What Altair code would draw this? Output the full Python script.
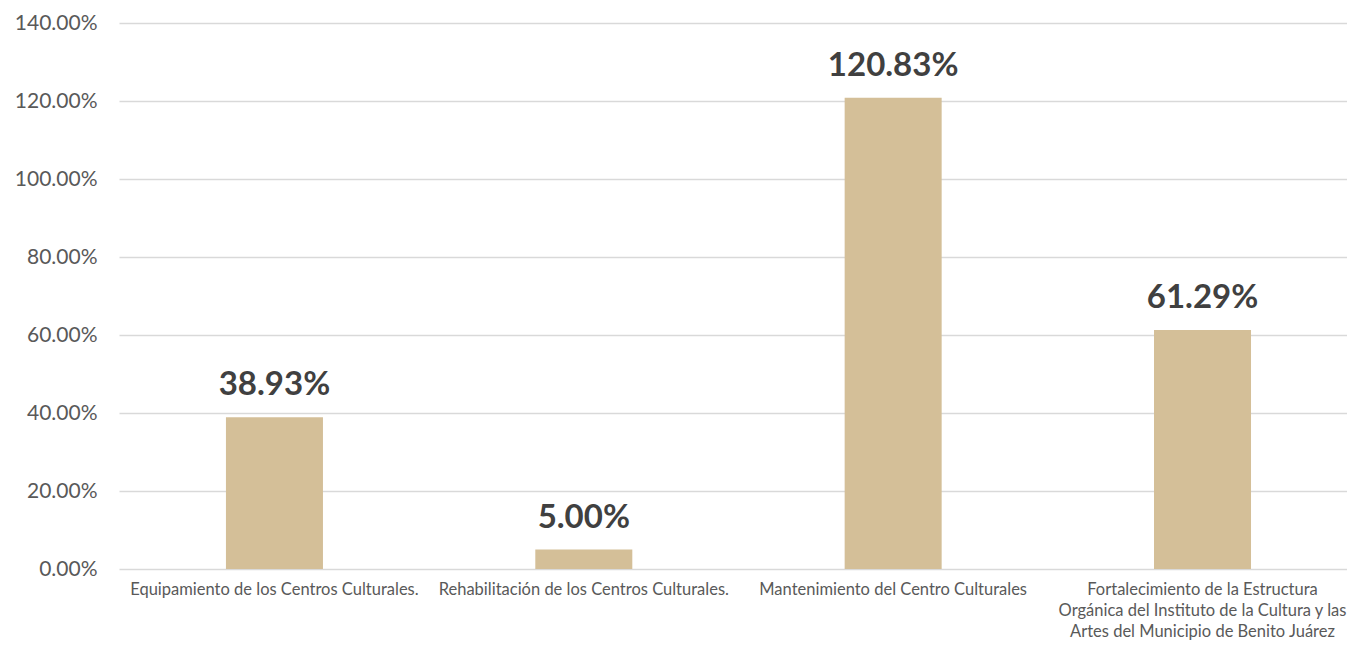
import altair as alt
import pandas as pd

categories = [
    "Equipamiento de los Centros Culturales.",
    "Rehabilitación de los Centros Culturales.",
    "Mantenimiento del Centro Culturales",
    "Fortalecimiento de la Estructura\nOrgánica del Instituto de la Cultura y las\nArtes del Municipio de Benito Juárez",
]
values = [0.3893, 0.05, 1.2083, 0.6129]
y_ticks = [0, 0.2, 0.4, 0.6, 0.8, 1.0, 1.2, 1.4]

df = pd.DataFrame({"cat": categories, "val": values})

FONT = "Lato"

x = alt.X(
    "cat:N",
    sort=categories,
    title=None,
    scale=alt.Scale(paddingInner=0.6864, paddingOuter=0.328, align=0.527),
    axis=alt.Axis(
        labelAngle=0,
        labelExpr="split(datum.label, '\\n')",
        labelFont=FONT,
        labelFontSize=16.5,
        labelColor="#595959",
        labelPadding=12,
        labelLimit=0,
        labelLineHeight=21,
        ticks=False,
        domain=False,
        grid=False,
        labelBaseline="top",
    ),
)
y = alt.Y(
    "val:Q",
    title=None,
    scale=alt.Scale(domain=[0, 1.4], nice=False),
    axis=alt.Axis(
        values=y_ticks,
        format=".2%",
        labelFont=FONT,
        labelFontSize=21,
        labelColor="#595959",
        labelPadding=22,
        ticks=False,
        domain=False,
        gridColor="#D9D9D9",
        gridWidth=1.5,
    ),
)

bars = alt.Chart(df).mark_bar(color="#D4BF98").encode(x=x, y=y)
labels = alt.Chart(df).mark_text(
    font=FONT,
    fontSize=33,
    fontWeight="bold",
    color="#404040",
    baseline="alphabetic",
    dy=-22,
).encode(x=x, y=y, text=alt.Text("val:Q", format=".2%"))

chart = (
    (bars + labels)
    .properties(
        width=1228,
        height=546,
        background="white",
        padding={"left": 111, "top": 15, "right": 0, "bottom": 77},
        autosize=alt.AutoSizeParams(type="none"),
    )
    .configure_view(stroke="transparent", strokeWidth=0)
)

chart.save("out.html", embed_options={"renderer": "svg", "actions": False})
